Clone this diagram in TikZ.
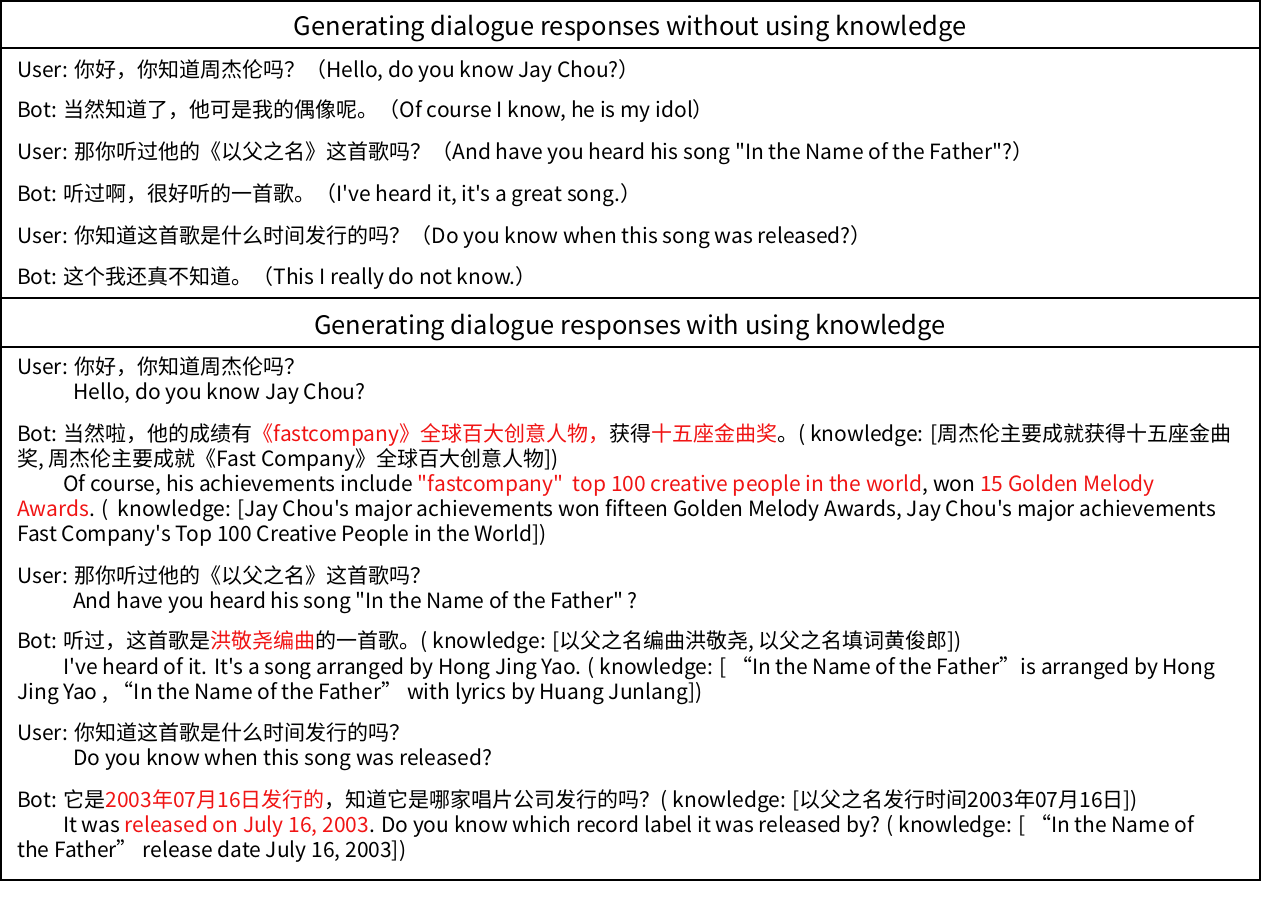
\documentclass[tikz,border=0pt]{standalone}
\usepackage{fontspec}
\setmainfont[Ligatures=TeXOff]{Noto Sans CJK SC}
\begin{document}
\begin{tikzpicture}[x=1pt,y=-1pt,
  txt/.style={anchor=base west,inner sep=0pt,font=\fontsize{21}{24}\selectfont},
  ttl/.style={anchor=base,inner sep=0pt,font=\fontsize{25.5}{28}\selectfont}]
\definecolor{rd}{RGB}{240,20,20}
\newcommand{\R}[1]{\textcolor{rd}{#1}}
\useasboundingbox (0,0) rectangle (1262,918);
\draw[line width=1.3pt] (1,1) rectangle (1260,880);
\draw[line width=1.3pt] (1,48) -- (1260,48);
\draw[line width=1.3pt] (1,298) -- (1260,298);
\draw[line width=1.3pt] (1,347) -- (1260,347);
\node[ttl] (t1) at (630,35) {Generating dialogue responses without using knowledge};
\node[ttl] (t2) at (630,334) {Generating dialogue responses with using knowledge};
\node[txt] (a1) at (17,77) {User: 你好，你知道周杰伦吗？（Hello, do you know Jay Chou?）};
\node[txt] (a2) at (17,117) {Bot: 当然知道了，他可是我的偶像呢。（Of course I know, he is my idol）};
\node[txt] (a3) at (17,159) {User: 那你听过他的《以父之名》这首歌吗？（And have you heard his song "In the Name of the Father"?）};
\node[txt] (a4) at (17,201) {Bot: 听过啊，很好听的一首歌。（I've heard it, it's a great song.）};
\node[txt] (a5) at (17,243) {User: 你知道这首歌是什么时间发行的吗？（Do you know when this song was released?）};
\node[txt] (a6) at (17,284) {Bot: 这个我还真不知道。（This I really do not know.）};
\node[txt] (b1) at (17,374) {User: 你好，你知道周杰伦吗？};
\node[txt] (b2) at (73,399) {Hello, do you know Jay Chou?};
\node[txt] (b3) at (17,441) {Bot: 当然啦，他的成绩有\R{《fastcompany》全球百大创意人物，}获得\R{十五座金曲奖}。( knowledge: [周杰伦主要成就获得十五座金曲};
\node[txt] (b4) at (17,466) {奖, 周杰伦主要成就《Fast Company》全球百大创意人物])};
\node[txt] (b5) at (63,491) {Of course, his achievements include \R{"fastcompany"\ \ top 100 creative people in the world}, won \R{15 Golden Melody}};
\node[txt] (b6) at (17,516) {\R{Awards}. (\ \ knowledge: [Jay Chou's major achievements won fifteen Golden Melody Awards, Jay Chou's major achievements};
\node[txt] (b7) at (17,541) {Fast Company's Top 100 Creative People in the World])};
\node[txt] (b8) at (17,583) {User: 那你听过他的《以父之名》这首歌吗？};
\node[txt] (b9) at (73,608) {And have you heard his song "In the Name of the Father" ?};
\node[txt] (b10) at (17,648) {Bot: 听过，这首歌是\R{洪敬尧编曲}的一首歌。( knowledge: [以父之名编曲洪敬尧, 以父之名填词黄俊郎])};
\node[txt] (b11) at (63,674) {I've heard of it. It's a song arranged by Hong Jing Yao. ( knowledge: [ “In the Name of the Father”is arranged by Hong};
\node[txt] (b12) at (17,699) {Jing Yao , “In the Name of the Father” with lyrics by Huang Junlang])};
\node[txt] (b13) at (17,740) {User: 你知道这首歌是什么时间发行的吗？};
\node[txt] (b14) at (73,765) {Do you know when this song was released?};
\node[txt] (b15) at (17,807) {Bot: 它是\R{2003年07月16日发行的}，知道它是哪家唱片公司发行的吗？( knowledge: [以父之名发行时间2003年07月16日])};
\node[txt] (b16) at (63,832) {It was \R{released on July 16, 2003}. Do you know which record label it was released by? ( knowledge: [ “In the Name of};
\node[txt] (b17) at (17,857) {the Father” release date July 16, 2003])};
\end{tikzpicture}
\end{document}
